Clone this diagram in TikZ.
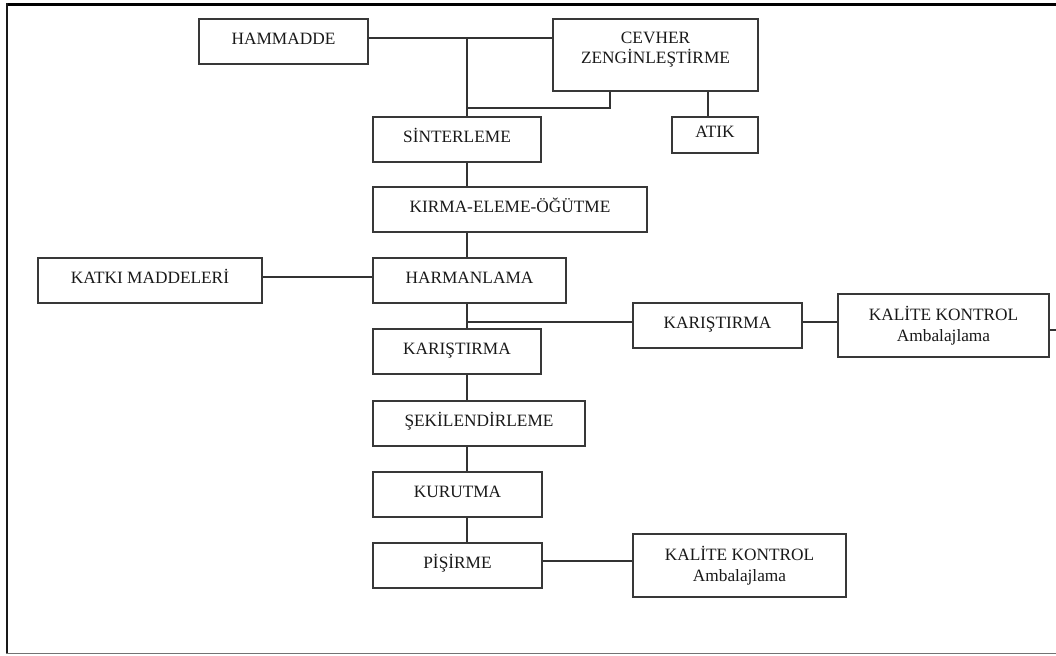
\documentclass[tikz,border=0pt]{standalone}
\usepackage{fontspec}
\setmainfont{Liberation Serif}
\begin{document}
\begin{tikzpicture}[x=1pt,y=-1pt,
  box/.style={draw=black!78, line width=1.5pt, fill=white, inner sep=0pt,
    font=\fontsize{17.3}{20.5}\selectfont, text=black!90,
    text height=12.5pt, text depth=7pt},
  twobox/.style={draw=black!78, line width=1.5pt, fill=white, inner sep=0pt,
    font=\fontsize{17.3}{20.5}\selectfont, text=black!90, align=center},
  conn/.style={draw=black!80, line width=1.4pt}]
\useasboundingbox (0,0) rectangle (1056,655);
% frame
\draw[black, line width=2.8pt] (7,4.7) -- (1056,4.7);
\draw[black!90, line width=2.4pt] (7,3.3) -- (7,653);
\draw[black!55, line width=1.5pt] (6,653.5) -- (1056,653.5);
% boxes
\node[box, minimum width=169pt, minimum height=45pt] (hammadde) at (283.5,41.5) {HAMMADDE};
\node[twobox, minimum width=205pt, minimum height=72pt, text depth=14pt] (cevher) at (655.5,55) {CEVHER\\ZENG\.{I}NLE\c{S}T\.{I}RME};
\node[box, minimum width=168pt, minimum height=45pt] (sinter) at (457,139.5) {S\.{I}NTERLEME};
\node[box, minimum width=86pt, minimum height=36pt] (atik) at (715,135) {ATIK};
\node[box, minimum width=274pt, minimum height=45pt] (kirma) at (510,209.5) {KIRMA-ELEME-\"{O}\u{G}\"{U}TME};
\node[box, minimum width=224pt, minimum height=45pt] (katki) at (150,280.5) {KATKI MADDELER\.{I}};
\node[box, minimum width=193pt, minimum height=45pt] (harman) at (469.5,280.5) {HARMANLAMA};
\node[box, minimum width=168pt, minimum height=45pt] (karA) at (457,351.5) {KARI\c{S}TIRMA};
\node[box, minimum width=169pt, minimum height=45pt] (karB) at (717.5,325.5) {KARI\c{S}TIRMA};
\node[twobox, minimum width=211pt, minimum height=63pt] (kalA) at (943.5,325.5) {KAL\.{I}TE KONTROL\\Ambalajlama};
\node[box, minimum width=212pt, minimum height=45pt] (sekil) at (479,423.5) {\c{S}EK\.{I}LEND\.{I}RLEME};
\node[box, minimum width=169pt, minimum height=45pt] (kurutma) at (457.5,494.5) {KURUTMA};
\node[box, minimum width=169pt, minimum height=45pt] (pisirme) at (457.5,565.5) {P\.{I}\c{S}\.{I}RME};
\node[twobox, minimum width=213pt, minimum height=63pt] (kalB) at (739.5,565.5) {KAL\.{I}TE KONTROL\\Ambalajlama};
% junction coordinates
\coordinate (j1) at (467,38);
\coordinate (j2) at (467,108);
\coordinate (c1) at (610,108);
\coordinate (c2) at (708,100);
\coordinate (j3) at (467,277);
\coordinate (j4) at (467,322);
\coordinate (edge) at (1056,330);
\coordinate (j5) at (467,561);
% connectors
\draw[conn] (hammadde.east |- j1) -- (cevher.west |- j1);
\draw[conn] (j1) -- (sinter.north -| j1);
\draw[conn] (cevher.south -| c1) -- (c1) -- (j2);
\draw[conn] (cevher.south -| c2) -- (atik.north -| c2);
\draw[conn] (sinter.south -| j1) -- (kirma.north -| j1);
\draw[conn] (kirma.south -| j1) -- (harman.north -| j1);
\draw[conn] (katki.east |- j3) -- (harman.west |- j3);
\draw[conn] (harman.south -| j4) -- (karA.north -| j4);
\draw[conn] (j4) -- (karB.west |- j4);
\draw[conn] (karB.east |- j4) -- (kalA.west |- j4);
\draw[conn] (kalA.east |- edge) -- (edge);
\draw[conn] (karA.south -| j1) -- (sekil.north -| j1);
\draw[conn] (sekil.south -| j1) -- (kurutma.north -| j1);
\draw[conn] (kurutma.south -| j1) -- (pisirme.north -| j1);
\draw[conn] (pisirme.east |- j5) -- (kalB.west |- j5);
\end{tikzpicture}
\end{document}
